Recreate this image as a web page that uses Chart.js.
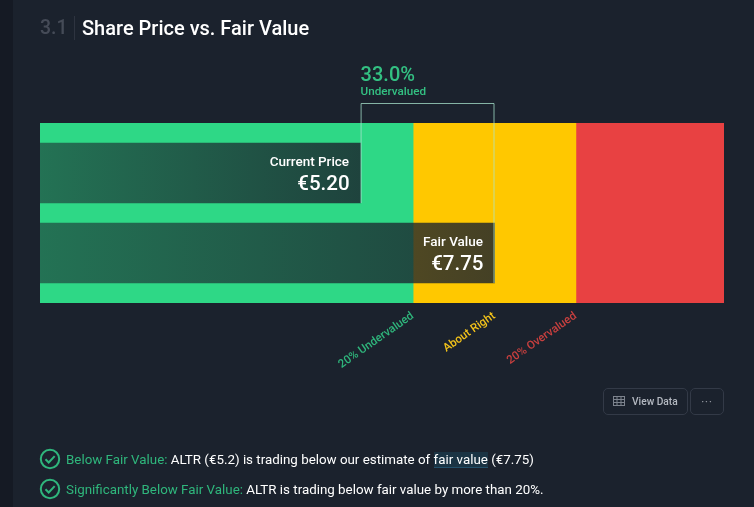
<!DOCTYPE html>
<html><head><meta charset="utf-8">
<script src="https://cdn.jsdelivr.net/npm/chart.js@4/dist/chart.umd.min.js"></script>
<style>
html,body{margin:0;padding:0;background:#1b222d;overflow:hidden}
#wrap{position:relative;width:754px;height:507px;background:#1b222d;font-family:Roboto,sans-serif;overflow:hidden}
#strip{position:absolute;left:0;top:0;width:13px;height:507px;background:#151a24}
canvas{position:absolute;left:0;top:0}
.t{position:absolute;white-space:nowrap}
#num{left:40px;top:15px;font-size:19.5px;line-height:26px;color:#454b57;font-weight:500}
#div{position:absolute;left:74px;top:16px;width:1px;height:24px;background:#2e3440}
#title{left:82px;top:15px;font-size:20px;line-height:26px;color:#fff;font-weight:500}
.btn{position:absolute;top:388px;height:25px;border:1px solid #333a47;border-radius:5px;box-sizing:content-box;color:#b4b9c1;font-size:10.2px;line-height:25px;font-weight:500}
.row{position:absolute;left:66px;font-size:13.35px;line-height:20px;color:#fff;white-space:nowrap}
.row b{font-weight:400;color:#2fb67c}
.row i{font-style:normal;background:#1b3444;border-bottom:1px solid #23506a}
svg{position:absolute}
</style></head><body>
<div id="wrap">
<div id="strip"></div>
<canvas id="c" width="754" height="507"></canvas>
<div class="t" id="num">3.1</div><div id="div"></div><div class="t" id="title">Share Price vs. Fair Value</div>
<div class="btn" style="left:603px;width:83px"><span style="position:absolute;left:28px">View Data</span></div>
<svg style="left:613px;top:395px" width="12" height="12" viewBox="0 0 12 12" fill="none" stroke="#7d838d" stroke-width="1"><rect x=".5" y="1.5" width="11" height="9"/><path d="M.5 4.5h11M.5 7.5h11M4 1.5v9M8 1.5v9"/></svg>
<div class="btn" style="left:690px;width:32px;text-align:center;letter-spacing:1px;color:#8d929b">···</div>
<svg style="left:39px;top:448px" width="22" height="22" viewBox="0 0 22 22" fill="none" stroke="#2fb67c" stroke-width="2"><circle cx="11" cy="11" r="9.2"/><path d="M6.5 11.3l3.2 3.2 6-6.4" stroke-width="2"/></svg>
<svg style="left:39px;top:478px" width="22" height="22" viewBox="0 0 22 22" fill="none" stroke="#2fb67c" stroke-width="2"><circle cx="11" cy="11" r="9.2"/><path d="M6.5 11.3l3.2 3.2 6-6.4" stroke-width="2"/></svg>
<div class="row" style="top:449.5px"><b>Below Fair Value:</b> ALTR (€5.2) is trading below our estimate of <i>fair value</i> (€7.75)</div>
<div class="row" style="top:479.5px"><b>Significantly Below Fair Value:</b> ALTR is trading below fair value by more than 20%.</div>
</div>
<script>
const axisMin = -0.905;
const axisMax = 12.12;
const zoneLabels = ["20% Undervalued", "About Right", "20% Overvalued"];
const zoneEdges = [6.2, 7.75, 9.3];
const zoneColors = ["#2ed886", "#ffc800", "#e84142"];
const labelColors = ["#2fb67c", "#f2c21a", "#c8403f"];
const priceLabels = ["Current Price", "Fair Value"];
const priceTexts = ["€5.20", "€7.75"];
const priceValues = [5.2, 7.75];
const discountText = "33.0%";
const discountLabel = "Undervalued";

function barGradient(ctx, i) {
  const sc = ctx.chart.scales.x;
  const x0 = sc ? sc.left : NaN;
  const x1 = sc ? sc.getPixelForValue(priceValues[i]) : NaN;
  if (!Number.isFinite(x0) || !Number.isFinite(x1)) return "rgba(27,34,45,0.7)";
  const g = ctx.chart.ctx.createLinearGradient(x0, 0, x1, 0);
  g.addColorStop(0, "rgba(27,34,45,0.56)");
  g.addColorStop(1, "rgba(27,34,45,0.82)");
  return g;
}

const annotate = {
  id: "annotate",
  afterDatasetsDraw(chart) {
    const { ctx, scales } = chart;
    const x = scales.x, y2 = scales.y2;
    ctx.save();
    priceValues.forEach((v, i) => {
      const px = x.getPixelForValue(v), cy = y2.getPixelForValue(i);
      ctx.fillStyle = "#fff";
      ctx.textAlign = "right";
      ctx.textBaseline = "alphabetic";
      ctx.font = "500 13.5px Roboto";
      ctx.fillText(priceLabels[i], px - 11.5, cy - 7);
      ctx.font = "500 20.5px Roboto";
      ctx.fillText(priceTexts[i], px - 11, cy + 17);
    });
    const a = x.getPixelForValue(priceValues[0]), b = x.getPixelForValue(priceValues[1]);
    const top = chart.chartArea.top - 20;
    ctx.strokeStyle = "rgba(170,230,205,0.75)";
    ctx.lineWidth = 1;
    ctx.beginPath();
    ctx.moveTo(a + 0.5, y2.getPixelForValue(0) + 30);
    ctx.lineTo(a + 0.5, top + 0.5);
    ctx.lineTo(b - 0.5, top + 0.5);
    ctx.lineTo(b - 0.5, y2.getPixelForValue(1) + 30);
    ctx.stroke();
    ctx.textAlign = "left";
    ctx.fillStyle = "#33c082";
    ctx.font = "500 20px Roboto";
    ctx.fillText(discountText, a, top - 22);
    ctx.font = "500 11.7px Roboto";
    ctx.fillText(discountLabel, a, top - 8);
    ctx.textAlign = "right";
    ctx.font = "500 11.5px Roboto";
    zoneEdges.forEach((v, i) => {
      ctx.save();
      ctx.translate(x.getPixelForValue(v) - 1, chart.chartArea.bottom + 11);
      ctx.rotate(-35 * Math.PI / 180);
      ctx.fillStyle = labelColors[i];
      ctx.fillText(zoneLabels[i], 0, 4);
      ctx.restore();
    });
    ctx.restore();
  }
};

const zoneBars = [
  [axisMin, zoneEdges[0]],
  [zoneEdges[0], zoneEdges[2]],
  [zoneEdges[2], axisMax]
];

new Chart(document.getElementById("c"), {
  type: "bar",
  data: {
    labels: ["zones"],
    datasets: [
      ...zoneBars.map((r, i) => ({
        data: [{ x: r, y: "zones" }], yAxisID: "y", backgroundColor: zoneColors[i],
        barPercentage: 1, categoryPercentage: 1, grouped: false, order: 3
      })),
      {
        data: priceValues.map((v, i) => ({ x: [axisMin, v], y: i })), yAxisID: "y2",
        barThickness: 60, grouped: false, order: 1,
        backgroundColor: c => barGradient(c, c.dataIndex),
        borderWidth: 0
      }
    ]
  },
  options: {
    indexAxis: "y",
    responsive: false,
    animation: false,
    devicePixelRatio: 1,
    layout: { padding: { left: 40, right: 30, top: 123, bottom: 204 } },
    plugins: { legend: { display: false }, tooltip: { enabled: false } },
    scales: {
      x: { type: "linear", min: axisMin, max: axisMax, display: false },
      y: { type: "category", display: false },
      y2: { type: "linear", min: -0.625, max: 1.625, reverse: true, offset: false, display: false }
    }
  },
  plugins: [annotate]
});
</script>
</body></html>
